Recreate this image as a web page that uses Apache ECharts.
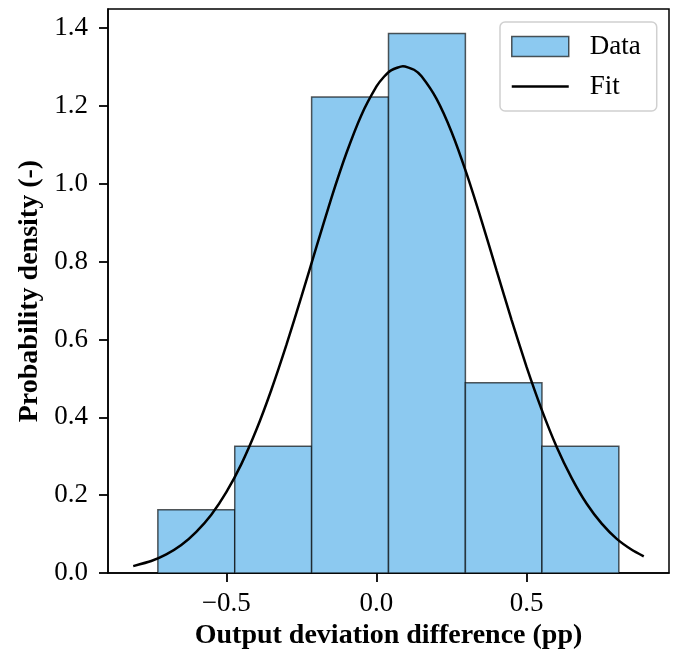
<!DOCTYPE html>
<html>
<head>
<meta charset="utf-8">
<script src="https://cdn.jsdelivr.net/npm/echarts@6/dist/echarts.min.js"></script>
<style>
  html, body { margin: 0; padding: 0; background: #fff; }
  #chart { width: 676px; height: 655px; }
</style>
</head>
<body>
<div id="chart"></div>
<script>
// histogram bins (edges) and densities
var binEdges = [-0.728, -0.472, -0.216, 0.040, 0.296, 0.551, 0.807];
var density = [0.163, 0.326, 1.223, 1.386, 0.489, 0.326];

// fitted curve
var fitX = [-0.81, -0.75, -0.70, -0.65, -0.60, -0.55, -0.50, -0.45, -0.40, -0.35,
  -0.30, -0.25, -0.20, -0.15, -0.10, -0.05, 0.00, 0.025, 0.05, 0.088, 0.125, 0.15,
  0.20, 0.25, 0.30, 0.35, 0.40, 0.45, 0.50, 0.55, 0.60, 0.65,
  0.70, 0.75, 0.80, 0.85, 0.89];
var fitY = [0.018, 0.031, 0.048, 0.072, 0.106, 0.150, 0.208, 0.280, 0.368, 0.471,
  0.586, 0.710, 0.838, 0.964, 1.079, 1.177, 1.250, 1.275, 1.292, 1.302, 1.293, 1.276,
  1.218, 1.133, 1.026, 0.905, 0.777, 0.650, 0.529, 0.420, 0.324, 0.244,
  0.178, 0.127, 0.088, 0.060, 0.043];

var xTicks = [-0.5, 0.0, 0.5];
var yTicks = [0.0, 0.2, 0.4, 0.6, 0.8, 1.0, 1.2, 1.4];

var font = 'Liberation Serif';
var barColor = '#8cc9f0';
var edgeColor = 'rgba(0,0,0,0.65)';

var histData = [];
for (var i = 0; i < density.length; i++) {
  histData.push([binEdges[i], binEdges[i + 1], density[i]]);
}
var fitData = [];
for (var j = 0; j < fitX.length; j++) {
  fitData.push([fitX[j], fitY[j]]);
}

function fmt(v) {
  var s = Math.abs(v).toFixed(1);
  return v < 0 ? '\u2212' + s : s;
}

var chart = echarts.init(document.getElementById('chart'), null, { renderer: 'canvas' });

var option = {
  animation: false,
  backgroundColor: '#fff',
  grid: {
    left: 108, right: 7, top: 9, bottom: 81,
    show: true,
    borderColor: '#000',
    borderWidth: 1.5
  },
  legend: {
    orient: 'vertical',
    left: 500,
    top: 22,
    itemWidth: 57,
    itemHeight: 20,
    itemGap: 13,
    padding: [11, 16, 11, 11],
    borderColor: '#d0d0d0',
    borderWidth: 1.5,
    borderRadius: 5,
    backgroundColor: '#fff',
    textStyle: { fontFamily: font, fontSize: 27, color: '#000', padding: [0, 0, 0, 16] },
    data: [
      { name: 'Data', icon: 'rect', itemStyle: { color: barColor, borderColor: edgeColor, borderWidth: 1.5 } },
      { name: 'Fit', icon: 'path://M0,0 L57,0 L57,2.5 L0,2.5 Z', itemStyle: { color: '#000', borderWidth: 0 } }
    ]
  },
  xAxis: {
    type: 'value',
    min: -0.894,
    max: 0.974,
    name: 'Output deviation difference (pp)',
    nameLocation: 'middle',
    nameGap: 47,
    nameTextStyle: { fontFamily: font, fontSize: 28, fontWeight: 'bold', color: '#000' },
    axisLine: { show: true, onZero: false, lineStyle: { color: '#000', width: 1.5 } },
    axisTick: { show: true, length: 9, lineStyle: { color: '#000', width: 1.8 }, customValues: xTicks },
    axisLabel: {
      fontFamily: font, fontSize: 27, color: '#000', margin: 17,
      customValues: xTicks,
      formatter: fmt
    },
    splitLine: { show: false }
  },
  yAxis: {
    type: 'value',
    min: 0,
    max: 1.449,
    name: 'Probability density (-)',
    nameLocation: 'middle',
    nameGap: 64,
    nameTextStyle: { fontFamily: font, fontSize: 28, fontWeight: 'bold', color: '#000' },
    axisLine: { show: true, onZero: false, lineStyle: { color: '#000', width: 1.5 } },
    axisTick: { show: true, length: 9, lineStyle: { color: '#000', width: 1.8 }, customValues: yTicks },
    axisLabel: {
      fontFamily: font, fontSize: 27, color: '#000', margin: 20,
      customValues: yTicks,
      formatter: function (v) { return v.toFixed(1); }
    },
    splitLine: { show: false }
  },
  series: [{
    name: 'Data',
    type: 'custom',
    itemStyle: { color: barColor, borderColor: edgeColor, borderWidth: 1.5 },
    encode: { x: [0, 1], y: 2 },
    renderItem: function (params, api) {
      var p0 = api.coord([api.value(0), api.value(2)]);
      var p1 = api.coord([api.value(1), 0]);
      return {
        type: 'rect',
        shape: { x: p0[0], y: p0[1], width: p1[0] - p0[0], height: p1[1] - p0[1] },
        style: { fill: barColor, stroke: edgeColor, lineWidth: 1.5 }
      };
    },
    data: histData,
    z: 1
  }, {
    name: 'Fit',
    type: 'line',
    data: fitData,
    smooth: 0.2,
    symbol: 'none',
    showSymbol: false,
    lineStyle: { color: '#000', width: 2.5 },
    itemStyle: { color: '#000' },
    z: 3
  }]
};

chart.setOption(option);
</script>
</body>
</html>
